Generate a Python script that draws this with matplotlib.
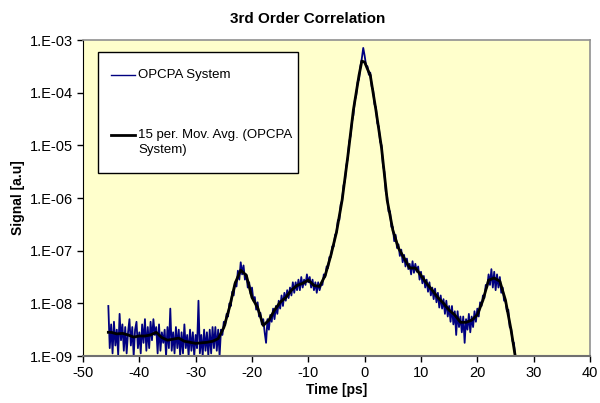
import numpy as np
import matplotlib
matplotlib.use("Agg")
import matplotlib.pyplot as plt
from matplotlib.patches import Rectangle
from matplotlib.ticker import FuncFormatter, FixedLocator

plt.rcParams["font.family"] = ["Liberation Sans", "DejaVu Sans"]
plt.rcParams["axes.unicode_minus"] = False

# 15 period moving average (time in ps, log10 of signal)
avg_time = [-45.5, -45, -44, -43, -42, -41, -40, -39, -38, -37, -36, -35, -34,
            -33, -32, -31, -30, -29, -28, -27, -26, -25, -24, -23, -22, -21,
            -20, -19, -18, -17, -16, -15, -14, -13, -12, -11, -10, -9, -8, -7,
            -6, -5, -4, -3, -2, -1, -0.5, 0, 0.5, 1, 2, 3, 4, 5, 6, 7, 8, 9,
            10, 11, 12, 13, 14, 15, 16, 17, 18, 19, 20, 21, 22, 23, 24, 25,
            26, 26.8]
avg_log = [-8.55, -8.55, -8.58, -8.57, -8.60, -8.64, -8.62, -8.62, -8.60,
           -8.55, -8.65, -8.70, -8.68, -8.66, -8.72, -8.74, -8.76, -8.75,
           -8.74, -8.72, -8.67, -8.46, -8.08, -7.62, -7.37, -7.47, -7.89,
           -8.08, -8.42, -8.32, -8.13, -7.98, -7.89, -7.75, -7.66, -7.62,
           -7.56, -7.66, -7.68, -7.47, -7.09, -6.65, -6.04, -5.22, -4.33,
           -3.67, -3.40, -3.42, -3.55, -3.67, -4.33, -5.05, -6.04, -6.61,
           -6.95, -7.14, -7.33, -7.33, -7.47, -7.62, -7.75, -7.89, -8.00,
           -8.13, -8.22, -8.36, -8.36, -8.32, -8.22, -7.94, -7.56, -7.52,
           -7.58, -7.94, -8.51, -9.05]

# raw OPCPA trace, log10 of signal, one value every 0.25 ps from -45.5 ps
raw_start, raw_step = -45.5, 0.25
raw_log = [
    -8.05, -8.85, -8.40, -8.95,  -8.35, -8.80, -8.50, -8.98,
    -8.20, -8.70, -8.40, -8.90,  -8.45, -8.95, -8.55, -8.30,
    -8.80, -8.45, -9.00, -8.50,  -8.35, -8.85, -8.55, -8.95,
    -8.40, -8.75, -8.30, -8.90,  -8.45, -8.85, -8.35, -8.70,
    -8.30, -8.60, -8.45, -8.95,  -8.40, -8.90, -8.55, -8.75,
    -8.50, -9.00, -8.45, -8.85,  -8.10, -8.90, -8.55, -8.95,
    -8.45, -8.85, -8.50, -9.00,  -8.55, -8.95, -8.40, -8.85,
    -8.60, -9.00, -8.50, -8.90,  -8.55, -9.00, -8.60, -8.85,
    -7.95, -8.95, -8.60, -9.00,  -8.50, -8.90, -8.55, -9.00,
    -8.50, -8.95, -8.45, -8.85,  -8.45, -8.90, -8.50, -9.00,
    -8.50, -8.60, -8.35, -8.42,  -8.20, -8.25, -8.00, -8.05,
    -7.78, -7.85, -7.60, -7.68,  -7.38, -7.55, -7.22, -7.45,
    -7.28, -7.55, -7.45, -7.70,  -7.60, -7.82, -7.70, -7.95,
    -7.88, -8.12, -7.98, -8.25,  -8.18, -8.40, -8.30, -8.55,
    -8.75, -8.30, -8.50, -8.22,  -8.35, -8.10, -8.30, -8.05,
    -8.20, -7.95, -8.10, -7.85,  -8.05, -7.80, -7.95, -7.75,
    -7.90, -7.70, -7.85, -7.60,  -7.80, -7.60, -7.75, -7.55,
    -7.75, -7.50, -7.70, -7.55,  -7.65, -7.45, -7.60, -7.50,
    -7.70, -7.55, -7.75, -7.60,  -7.80, -7.60, -7.75, -7.65,
    -7.65, -7.45, -7.50, -7.30,  -7.33, -7.12, -7.12, -6.92,
    -6.92, -6.70, -6.66, -6.42,  -6.42, -6.12, -6.05, -5.76,
    -5.68, -5.38, -5.25, -4.94,  -4.82, -4.55, -4.43, -4.15,
    -4.05, -3.80, -3.75, -3.50,  -3.35, -3.15, -3.30, -3.48,
    -3.50, -3.66, -3.62, -3.88,  -3.95, -4.22, -4.28, -4.58,
    -4.64, -4.93, -5.00, -5.38,  -5.50, -5.88, -5.98, -6.26,
    -6.25, -6.55, -6.55, -6.82,  -6.70, -6.95, -6.88, -7.10,
    -6.98, -7.22, -7.08, -7.30,  -7.15, -7.35, -7.25, -7.45,
    -7.20, -7.42, -7.25, -7.40,  -7.30, -7.55, -7.40, -7.62,
    -7.48, -7.70, -7.55, -7.78,  -7.60, -7.85, -7.70, -7.92,
    -7.72, -7.98, -7.80, -8.08,  -7.85, -8.10, -7.92, -8.20,
    -7.95, -8.25, -8.05, -8.35,  -8.05, -8.40, -8.15, -8.60,
    -8.15, -8.45, -8.25, -8.55,  -8.25, -8.75, -8.30, -8.50,
    -8.20, -8.55, -8.25, -8.45,  -8.15, -8.35, -8.10, -8.25,
    -7.98, -8.05, -7.85, -7.90,  -7.65, -7.70, -7.45, -7.65,
    -7.35, -7.70, -7.40, -7.75,  -7.45, -7.70, -7.50, -7.80,
    -7.70, -7.95, -7.95, -8.15,  -8.12, -8.45, -8.48, -8.72,
    -8.75, -9.05,
]

x_ticks = [-50, -40, -30, -20, -10, 0, 10, 20, 30, 40]
y_ticks = [1e-9, 1e-8, 1e-7, 1e-6, 1e-5, 1e-4, 1e-3]

raw_time = raw_start + raw_step * np.arange(len(raw_log))

fig = plt.figure(figsize=(6.0, 4.03), dpi=100)
ax = fig.add_axes([0.1383, 0.1166, 0.845, 0.7841])
ax.set_facecolor("#FFFFCC")

ax.plot(raw_time, np.power(10.0, raw_log), color="#000080", lw=1.3)
ax.plot(avg_time, np.power(10.0, avg_log), color="black", lw=2.0)

ax.set_yscale("log")
ax.set_xlim(-50, 40)
ax.set_ylim(1e-9, 1e-3)
ax.xaxis.set_major_locator(FixedLocator(x_ticks))
ax.yaxis.set_major_locator(FixedLocator(y_ticks))
ax.yaxis.set_minor_locator(FixedLocator([]))
ax.yaxis.set_major_formatter(
    FuncFormatter(lambda v, p: "1.E-%02d" % int(round(-np.log10(v)))))
ax.tick_params(axis="both", which="major", labelsize=10.5, direction="out",
               length=4, width=1, color="black", pad=3)

for side in ["top", "right"]:
    ax.spines[side].set_color("#909090")
    ax.spines[side].set_linewidth(1.2)
ax.spines["left"].set_color("black")
ax.spines["bottom"].set_color("#707070")
ax.spines["bottom"].set_linewidth(1.5)

ax.set_xlabel("Time [ps]", fontsize=10, fontweight="bold", labelpad=2)
ax.set_ylabel("Signal [a.u]", fontsize=10, fontweight="bold", labelpad=4)
fig.text(0.512, 0.953, "3rd Order Correlation", ha="center", va="center",
         fontsize=11, fontweight="bold")

# Excel style legend box, drawn by hand so the handle sits on the first line
ax.add_patch(Rectangle((0.0296, 0.579), 0.3944, 0.383, transform=ax.transAxes,
                       facecolor="white", edgecolor="black", lw=1.0,
                       zorder=5))
ax.plot([0.0552, 0.1026], [0.889, 0.889], transform=ax.transAxes,
        color="#000080", lw=1.0, zorder=6)
ax.plot([0.0552, 0.1026], [0.699, 0.699], transform=ax.transAxes,
        color="black", lw=2.0, zorder=6)
ax.text(0.1085, 0.889, "OPCPA System", transform=ax.transAxes, fontsize=9.5,
        va="center", ha="left", zorder=6)
ax.text(0.1085, 0.699, "15 per. Mov. Avg. (OPCPA", transform=ax.transAxes,
        fontsize=9.5, va="center", ha="left", zorder=6)
ax.text(0.1085, 0.652, "System)", transform=ax.transAxes, fontsize=9.5,
        va="center", ha="left", zorder=6)

fig.savefig("out.png", dpi=100)
